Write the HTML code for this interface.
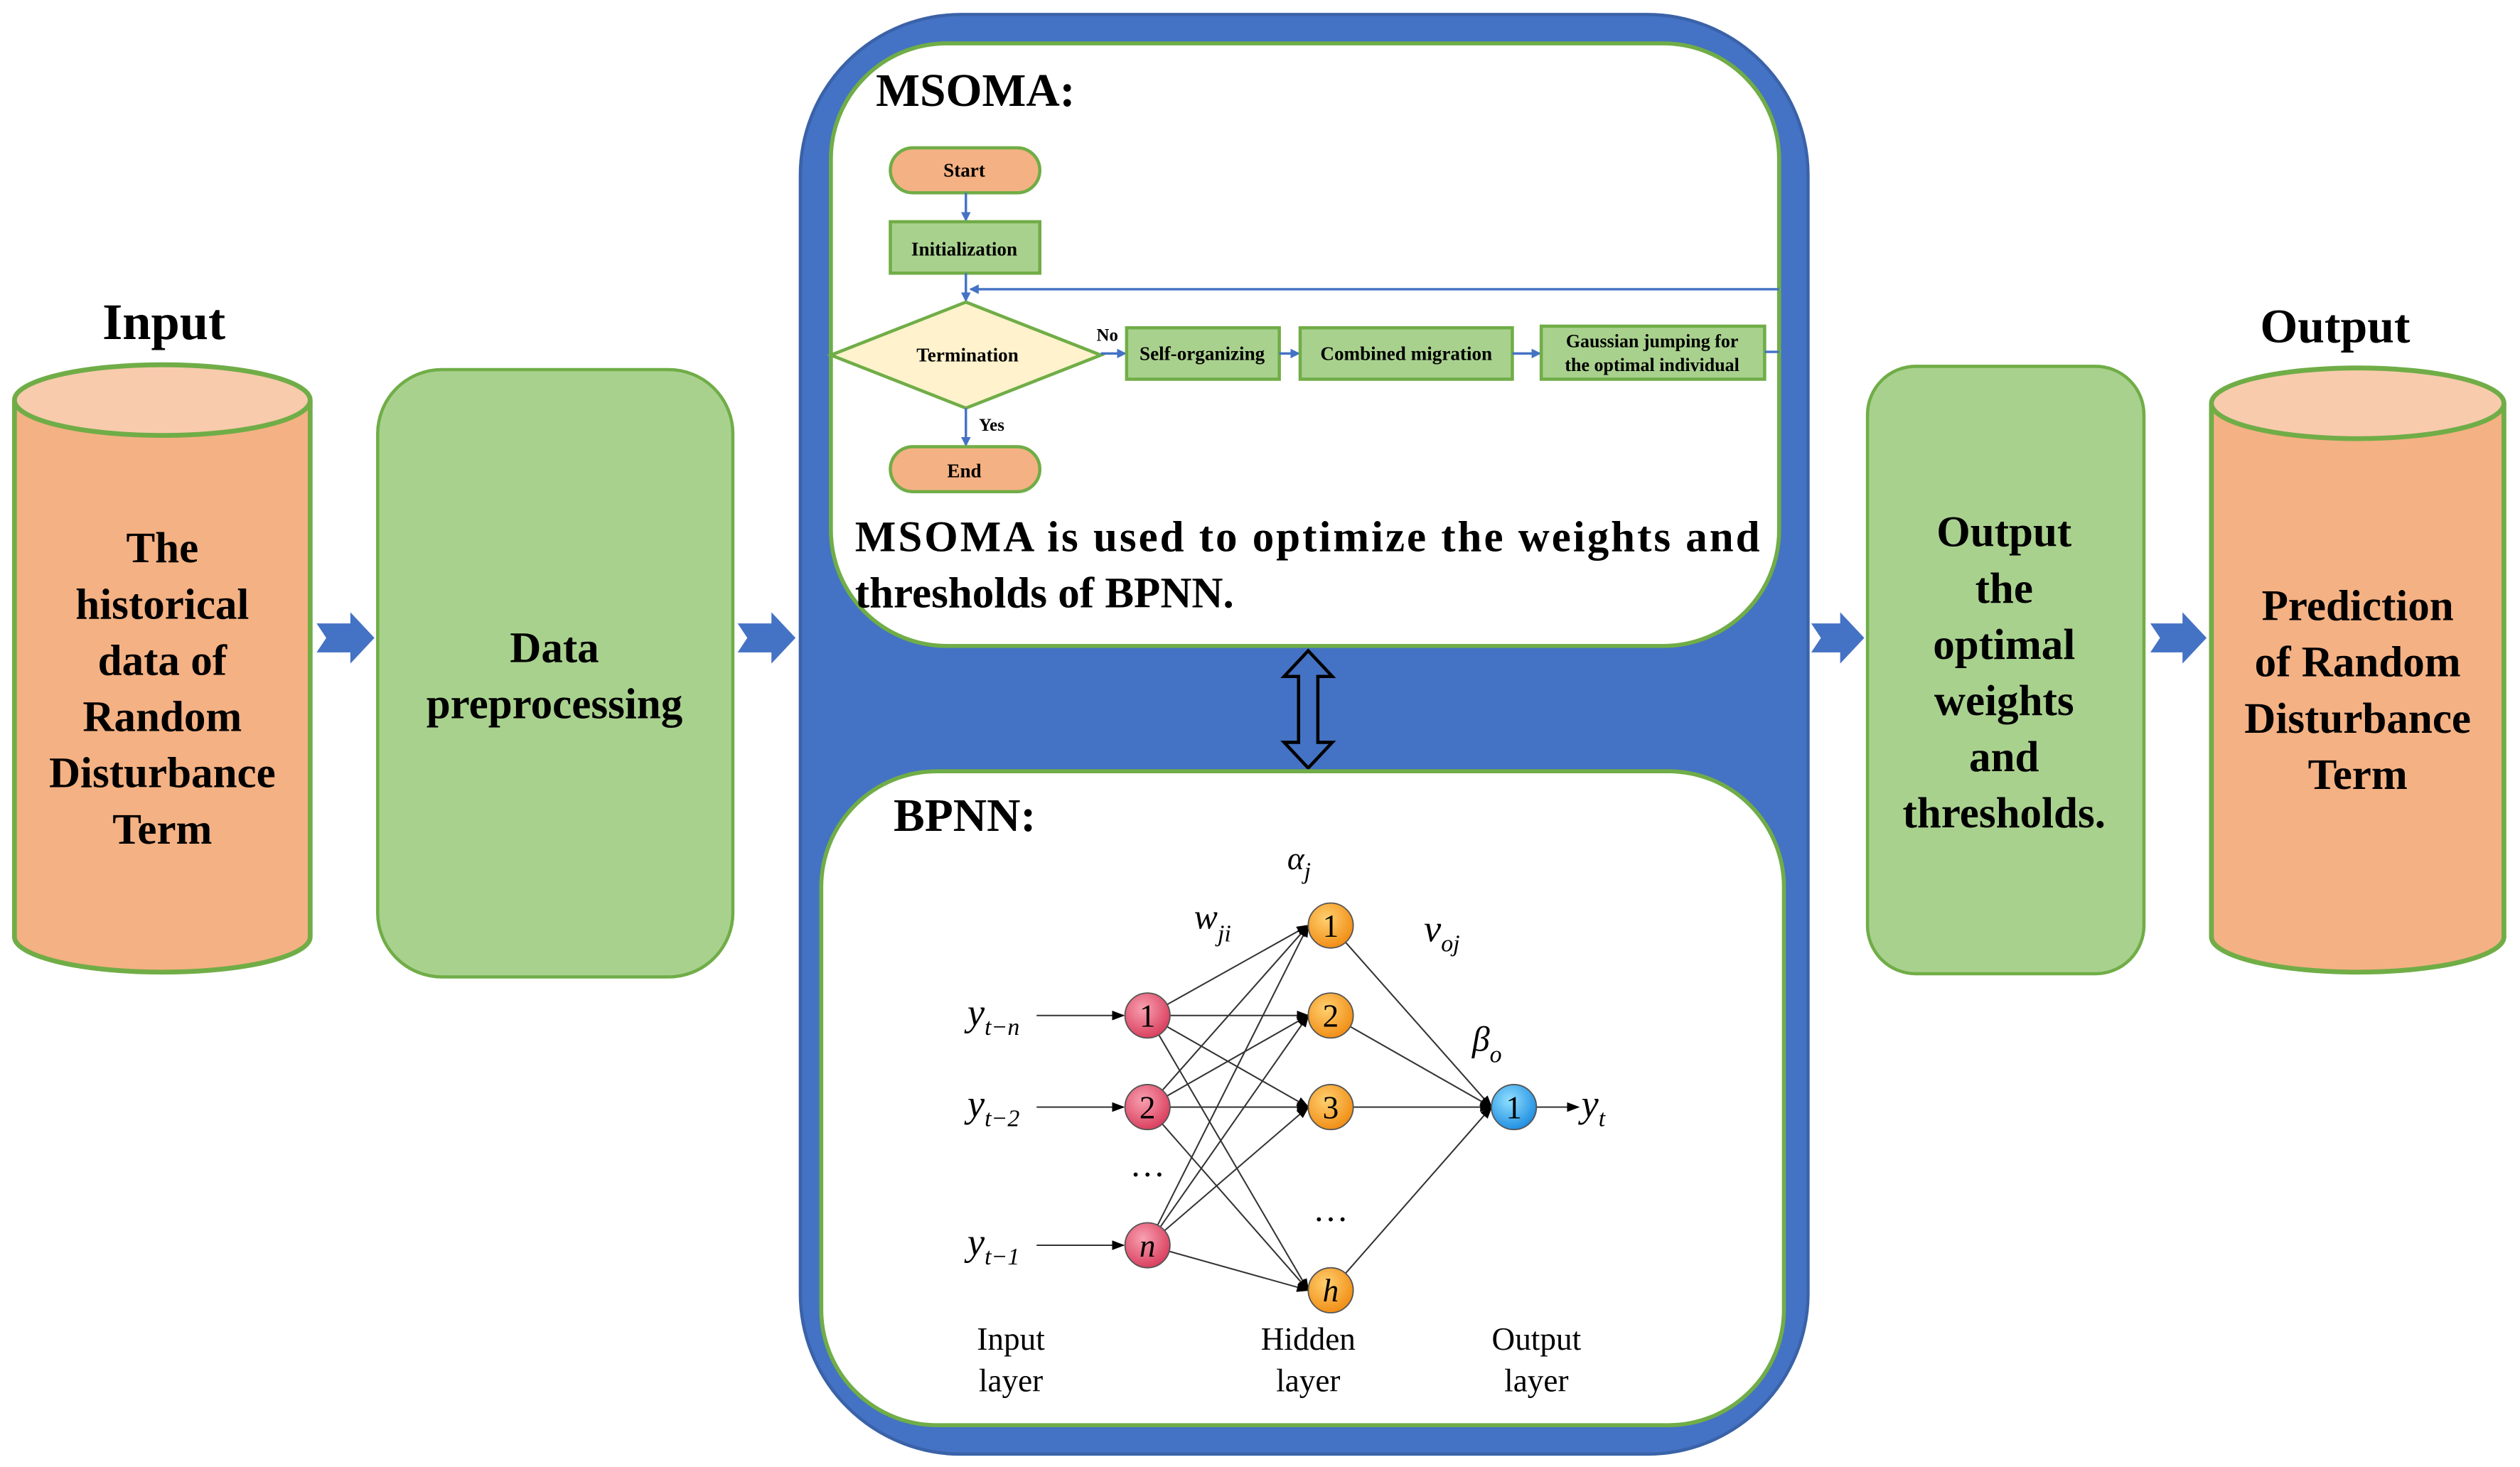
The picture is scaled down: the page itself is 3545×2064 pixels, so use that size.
<!DOCTYPE html>
<html><head><meta charset="utf-8"><style>
html,body{margin:0;padding:0;background:#fff}
svg{display:block}
text{font-family:"Liberation Serif",serif;}
.b{font-weight:bold}
</style></head><body>
<svg width="3545" height="2064" viewBox="0 0 1568 913" preserveAspectRatio="none" xmlns="http://www.w3.org/2000/svg">
<defs>
<marker id="ab" markerWidth="6" markerHeight="6" refX="5" refY="3" orient="auto" markerUnits="userSpaceOnUse"><path d="M0,0 L6,3 L0,6 z" fill="#4472C4"/></marker>
<marker id="ak" markerWidth="8" markerHeight="6" refX="7" refY="3" orient="auto" markerUnits="userSpaceOnUse"><path d="M0,0 L8,3 L0,6 z" fill="#000"/></marker>
<radialGradient id="gr" cx="0.4" cy="0.35" r="0.7"><stop offset="0" stop-color="#f8a0b0"/><stop offset="1" stop-color="#d83a5a"/></radialGradient>
<radialGradient id="go" cx="0.4" cy="0.35" r="0.7"><stop offset="0" stop-color="#ffd070"/><stop offset="1" stop-color="#f08a10"/></radialGradient>
<radialGradient id="gb" cx="0.4" cy="0.35" r="0.7"><stop offset="0" stop-color="#90e0ff"/><stop offset="1" stop-color="#1a8ae0"/></radialGradient>
</defs>

<!-- Input cylinder -->
<text x="102" y="211" text-anchor="middle" class="b" font-size="32">Input</text>
<path d="M9,249 L9,583 A92,22 0 0 0 193,583 L193,249" fill="#F4B183" stroke="#70AD47" stroke-width="3"/>
<ellipse cx="101" cy="249" rx="92" ry="22" fill="#F8CBAD" stroke="#70AD47" stroke-width="3"/>
<g class="b" font-size="27" text-anchor="middle">
<text x="101" y="350">The</text><text x="101" y="385">historical</text><text x="101" y="420">data of</text>
<text x="101" y="455">Random</text><text x="101" y="490">Disturbance</text><text x="101" y="525">Term</text>
</g>

<!-- block arrows -->
<g fill="#4472C4">
<path d="M197,388 L218,388 L218,381 L233,397 L218,413 L218,406 L197,406 L203,397 z"/>
<path d="M459,388 L480,388 L480,381 L495,397 L480,413 L480,406 L459,406 L465,397 z"/>
<path d="M1127,388 L1145,388 L1145,381 L1160,397 L1145,413 L1145,406 L1127,406 L1133,397 z"/>
<path d="M1338,388 L1358,388 L1358,381 L1373,397 L1358,413 L1358,406 L1338,406 L1344,397 z"/>
</g>

<!-- Data preprocessing -->
<rect x="235" y="230" width="221" height="378" rx="40" fill="#A9D18E" stroke="#70AD47" stroke-width="2"/>
<g class="b" font-size="27" text-anchor="middle"><text x="345" y="412">Data</text><text x="345" y="447">preprocessing</text></g>

<!-- big blue panel -->
<rect x="498" y="9" width="627" height="896" rx="100" fill="#4472C4" stroke="#3a62a8" stroke-width="2"/>
<rect x="517" y="27" width="590" height="375" rx="72" fill="#fff" stroke="#70AD47" stroke-width="2.5"/>
<text x="545" y="66" class="b" font-size="29">MSOMA:</text>

<!-- flowchart -->
<rect x="554" y="92" width="93" height="28" rx="14" fill="#F4B183" stroke="#70AD47" stroke-width="2"/>
<text x="600" y="110" text-anchor="middle" class="b" font-size="12">Start</text>
<line x1="601" y1="120" x2="601" y2="137" stroke="#4472C4" stroke-width="1.5" marker-end="url(#ab)"/>
<rect x="554" y="138" width="93" height="32" fill="#A9D18E" stroke="#70AD47" stroke-width="2"/>
<text x="600" y="159" text-anchor="middle" class="b" font-size="12">Initialization</text>
<line x1="601" y1="170" x2="601" y2="187" stroke="#4472C4" stroke-width="1.5" marker-end="url(#ab)"/>
<line x1="1107" y1="180" x2="604" y2="180" stroke="#4472C4" stroke-width="1.5" marker-end="url(#ab)"/>
<path d="M601,188 L685,221 L601,254 L517,221 z" fill="#FFF2CC" stroke="#70AD47" stroke-width="2"/>
<text x="602" y="225" text-anchor="middle" class="b" font-size="12">Termination</text>
<text x="689" y="212" text-anchor="middle" class="b" font-size="11">No</text>
<line x1="685" y1="220" x2="700" y2="220" stroke="#4472C4" stroke-width="1.5" marker-end="url(#ab)"/>
<rect x="701" y="204" width="95" height="32" fill="#A9D18E" stroke="#70AD47" stroke-width="2"/>
<text x="748" y="224" text-anchor="middle" class="b" font-size="12">Self-organizing</text>
<line x1="796" y1="220" x2="808" y2="220" stroke="#4472C4" stroke-width="1.5" marker-end="url(#ab)"/>
<rect x="809" y="204" width="132" height="32" fill="#A9D18E" stroke="#70AD47" stroke-width="2"/>
<text x="875" y="224" text-anchor="middle" class="b" font-size="12">Combined migration</text>
<line x1="941" y1="220" x2="958" y2="220" stroke="#4472C4" stroke-width="1.5" marker-end="url(#ab)"/>
<rect x="959" y="203" width="139" height="33" fill="#A9D18E" stroke="#70AD47" stroke-width="2"/>
<text x="1028" y="216" text-anchor="middle" class="b" font-size="11.5">Gaussian jumping for</text>
<text x="1028" y="231" text-anchor="middle" class="b" font-size="11.5">the optimal individual</text>
<line x1="1098" y1="219" x2="1107" y2="219" stroke="#4472C4" stroke-width="1.5"/>
<line x1="601" y1="254" x2="601" y2="277" stroke="#4472C4" stroke-width="1.5" marker-end="url(#ab)"/>
<text x="617" y="268" text-anchor="middle" class="b" font-size="11">Yes</text>
<rect x="554" y="278" width="93" height="28" rx="14" fill="#F4B183" stroke="#70AD47" stroke-width="2"/>
<text x="600" y="297" text-anchor="middle" class="b" font-size="12">End</text>

<text x="532" y="343" class="b" font-size="27" textLength="563" lengthAdjust="spacing">MSOMA is used to optimize the weights and</text>
<text x="532" y="378" class="b" font-size="27">thresholds of BPNN.</text>

<!-- double arrow -->
<path d="M814,405 L829,421 L820,421 L820,462 L829,462 L814,478 L799,462 L808,462 L808,421 L799,421 z" fill="#4472C4" stroke="#000" stroke-width="2"/>

<!-- BPNN panel -->
<rect x="511" y="480" width="599" height="407" rx="72" fill="#fff" stroke="#70AD47" stroke-width="2.5"/>
<text x="556" y="517" class="b" font-size="29">BPNN:</text>

<g stroke="#333" stroke-width="0.9" fill="none">
<!-- input to hidden -->
<line x1="714" y1="632" x2="814" y2="576" marker-end="url(#ak)"/>
<line x1="714" y1="632" x2="814" y2="632" marker-end="url(#ak)"/>
<line x1="714" y1="632" x2="814" y2="689" marker-end="url(#ak)"/>
<line x1="714" y1="632" x2="814" y2="803" marker-end="url(#ak)"/>
<line x1="714" y1="689" x2="814" y2="576" marker-end="url(#ak)"/>
<line x1="714" y1="689" x2="814" y2="632" marker-end="url(#ak)"/>
<line x1="714" y1="689" x2="814" y2="689" marker-end="url(#ak)"/>
<line x1="714" y1="689" x2="814" y2="803" marker-end="url(#ak)"/>
<line x1="714" y1="775" x2="814" y2="576" marker-end="url(#ak)"/>
<line x1="714" y1="775" x2="814" y2="632" marker-end="url(#ak)"/>
<line x1="714" y1="775" x2="814" y2="689" marker-end="url(#ak)"/>
<line x1="714" y1="775" x2="814" y2="803" marker-end="url(#ak)"/>
<!-- hidden to output -->
<line x1="828" y1="576" x2="928" y2="689" marker-end="url(#ak)"/>
<line x1="828" y1="632" x2="928" y2="689" marker-end="url(#ak)"/>
<line x1="828" y1="689" x2="928" y2="689" marker-end="url(#ak)"/>
<line x1="828" y1="803" x2="928" y2="689" marker-end="url(#ak)"/>
<!-- inputs -->
<line x1="645" y1="632" x2="699" y2="632" marker-end="url(#ak)"/>
<line x1="645" y1="689" x2="699" y2="689" marker-end="url(#ak)"/>
<line x1="645" y1="775" x2="699" y2="775" marker-end="url(#ak)"/>
<line x1="956" y1="689" x2="982" y2="689" marker-end="url(#ak)"/>
</g>
<g stroke="#555" stroke-width="0.8" font-size="20" text-anchor="middle">
<circle cx="714" cy="632" r="14" fill="url(#gr)"/><circle cx="714" cy="689" r="14" fill="url(#gr)"/><circle cx="714" cy="775" r="14" fill="url(#gr)"/>
<circle cx="828" cy="576" r="14" fill="url(#go)"/><circle cx="828" cy="632" r="14" fill="url(#go)"/><circle cx="828" cy="689" r="14" fill="url(#go)"/><circle cx="828" cy="803" r="14" fill="url(#go)"/>
<circle cx="942" cy="689" r="14" fill="url(#gb)"/>
</g>
<g font-size="20" text-anchor="middle" fill="#000">
<text x="714" y="639">1</text><text x="714" y="696">2</text><text x="714" y="782" font-style="italic">n</text>
<text x="828" y="583">1</text><text x="828" y="639">2</text><text x="828" y="696">3</text><text x="828" y="810" font-style="italic">h</text>
<text x="942" y="696">1</text>
</g>
<g font-size="24" font-style="italic">
<text x="602" y="638">y<tspan font-size="15" dy="6">t−n</tspan></text>
<text x="602" y="695">y<tspan font-size="15" dy="6">t−2</tspan></text>
<text x="602" y="781">y<tspan font-size="15" dy="6">t−1</tspan></text>
<text x="984" y="695">y<tspan font-size="15" dy="6">t</tspan></text>
<text x="743" y="578" font-size="22">w<tspan font-size="15" dy="8">ji</tspan></text>
<text x="886" y="586">v<tspan font-size="15" dy="6">oj</tspan></text>
<text x="801" y="541" font-size="20">α<tspan font-size="15" dy="6">j</tspan></text>
<text x="916" y="654" font-size="22">β<tspan font-size="15" dy="7">o</tspan></text>
</g>
<g font-size="22" text-anchor="middle">
<text x="714" y="732">…</text><text x="828" y="760">…</text>
</g>
<g font-size="20" text-anchor="middle">
<text x="629" y="840">Input</text><text x="629" y="866">layer</text>
<text x="814" y="840">Hidden</text><text x="814" y="866">layer</text>
<text x="956" y="840">Output</text><text x="956" y="866">layer</text>
</g>

<!-- Output box -->
<rect x="1162" y="228" width="172" height="378" rx="30" fill="#A9D18E" stroke="#70AD47" stroke-width="2"/>
<g class="b" font-size="27" text-anchor="middle">
<text x="1247" y="340">Output</text><text x="1247" y="375">the</text><text x="1247" y="410">optimal</text>
<text x="1247" y="445">weights</text><text x="1247" y="480">and</text><text x="1247" y="515">thresholds.</text>
</g>

<!-- Output cylinder -->
<text x="1453" y="213" text-anchor="middle" class="b" font-size="30">Output</text>
<path d="M1376,251 L1376,583 A91,22 0 0 0 1558,583 L1558,251" fill="#F4B183" stroke="#70AD47" stroke-width="3"/>
<ellipse cx="1467" cy="251" rx="91" ry="22" fill="#F8CBAD" stroke="#70AD47" stroke-width="3"/>
<g class="b" font-size="27" text-anchor="middle">
<text x="1467" y="386">Prediction</text><text x="1467" y="421">of Random</text>
<text x="1467" y="456">Disturbance</text><text x="1467" y="491">Term</text>
</g>
</svg>
</body></html>
